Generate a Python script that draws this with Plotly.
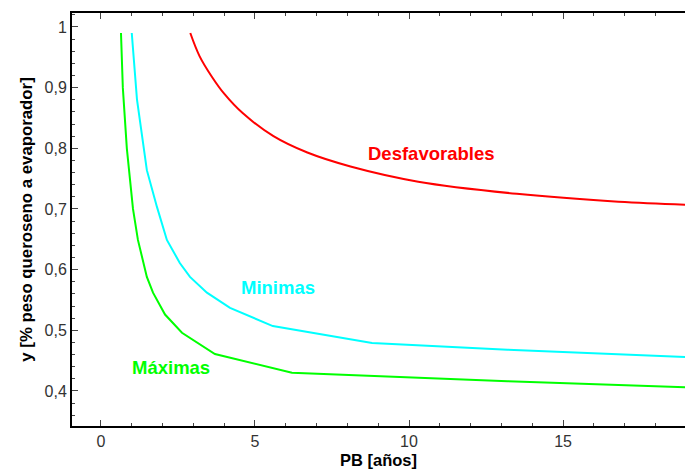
import plotly.graph_objects as go

# Data
pb_max = [0.65, 0.71, 0.84, 1.04, 1.20, 1.49, 1.69, 2.08, 2.63, 3.70, 6.20, 13.2, 19.0]
y_max = [0.99, 0.90, 0.80, 0.70, 0.649, 0.588, 0.562, 0.526, 0.496, 0.461, 0.430, 0.416, 0.406]

pb_min = [1.00, 1.17, 1.49, 1.82, 2.14, 2.56, 2.89, 3.44, 4.19, 5.58, 8.80, 13.2, 19.0]
y_min = [0.99, 0.88, 0.764, 0.703, 0.649, 0.611, 0.588, 0.562, 0.537, 0.507, 0.479, 0.468, 0.456]

pb_des = [2.90, 3.20, 3.60, 4.00, 4.60, 5.60, 6.70, 8.10, 10.3, 13.5, 16.8, 19.0]
y_des = [0.99, 0.952, 0.918, 0.890, 0.858, 0.820, 0.793, 0.770, 0.745, 0.725, 0.712, 0.707]

x_ticks = [0, 5, 10, 15]
y_ticks = [0.4, 0.5, 0.6, 0.7, 0.8, 0.9, 1.0]
y_tick_labels = ["0,4", "0,5", "0,6", "0,7", "0,8", "0,9", "1"]

labels = ["Desfavorables", "Minimas", "Máximas"]
label_x = [10.71, 5.75, 2.27]
label_y = [0.792, 0.570, 0.438]
colors = ["#ff0000", "#00ffff", "#00ff00"]

FONT = "Arial, Liberation Sans, sans-serif"

fig = go.Figure()
fig.add_trace(go.Scatter(x=pb_des, y=y_des, mode="lines",
                         line=dict(color=colors[0], width=2, shape="spline", smoothing=1.0), showlegend=False))
fig.add_trace(go.Scatter(x=pb_min, y=y_min, mode="lines",
                         line=dict(color=colors[1], width=2), showlegend=False))
fig.add_trace(go.Scatter(x=pb_max, y=y_max, mode="lines",
                         line=dict(color=colors[2], width=2), showlegend=False))

for t, lx, ly, c in zip(labels, label_x, label_y, colors):
    fig.add_annotation(x=lx, y=ly, text="<b>%s</b>" % t, showarrow=False,
                       font=dict(family=FONT, size=18.5, color=c),
                       xanchor="center", yanchor="middle")

fig.update_layout(
    width=685, height=474,
    margin=dict(l=72, r=0, t=13, b=48),
    plot_bgcolor="white", paper_bgcolor="white",
    font=dict(family=FONT, size=16, color="#333333"),
)

fig.update_xaxes(
    range=[-0.94, 18.96], tickvals=x_ticks, ticktext=[str(v) for v in x_ticks],
    showgrid=False, zeroline=False,
    showline=True, linecolor="black", linewidth=2, mirror="ticks",
    ticks="inside", ticklen=6, tickwidth=1, tickcolor="#444444",
    minor=dict(dtick=1, tick0=0, ticks="inside", ticklen=3, tickcolor="#444444", showgrid=False),
    tickfont=dict(family=FONT, size=16, color="#333333"),
    title=dict(text="<b>PB [años]</b>", font=dict(family=FONT, size=16.5, color="black"), standoff=5),
)
fig.update_yaxes(
    range=[0.3423, 1.023], tickvals=y_ticks, ticktext=y_tick_labels,
    showgrid=False, zeroline=False,
    showline=True, linecolor="black", linewidth=2,
    ticks="inside", ticklen=6, tickwidth=1, tickcolor="#444444",
    minor=dict(dtick=0.02, tick0=0, ticks="inside", ticklen=3, tickcolor="#444444", showgrid=False),
    tickfont=dict(family=FONT, size=16, color="#333333"),
    title=dict(text="<b>y [% peso queroseno a evaporador]</b>", font=dict(family=FONT, size=16.8, color="black"), standoff=8),
)

fig.write_html("out.html")
